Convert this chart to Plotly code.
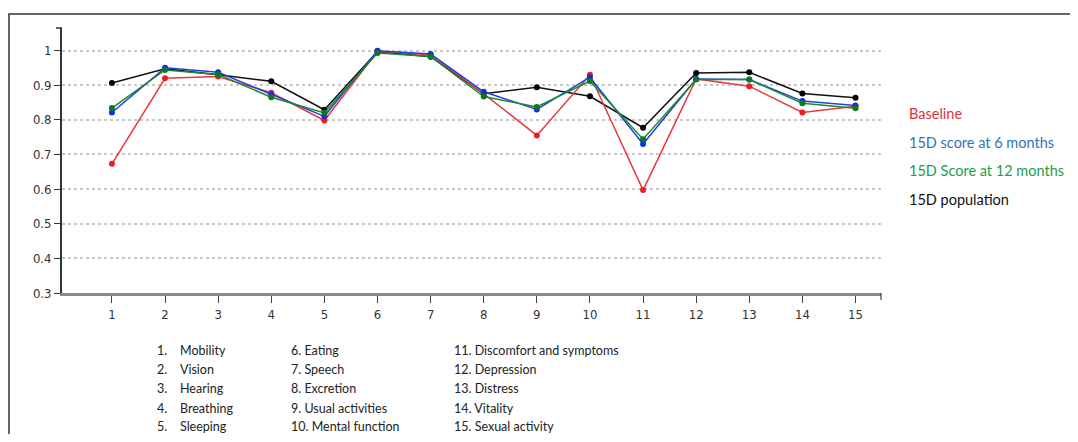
import plotly.graph_objects as go

# ---- data ----
dimensions = list(range(1, 16))
dimension_names = ["Mobility", "Vision", "Hearing", "Breathing", "Sleeping",
                   "Eating", "Speech", "Excretion", "Usual activities", "Mental function",
                   "Discomfort and symptoms", "Depression", "Distress", "Vitality", "Sexual activity"]
baseline = [0.673, 0.920, 0.925, 0.878, 0.798, 0.998, 0.988, 0.875, 0.755, 0.930,
            0.597, 0.918, 0.897, 0.821, 0.839]
months6 = [0.821, 0.950, 0.937, 0.873, 0.810, 0.999, 0.990, 0.881, 0.830, 0.923,
           0.730, 0.918, 0.916, 0.854, 0.841]
months12 = [0.834, 0.944, 0.931, 0.865, 0.820, 0.993, 0.983, 0.867, 0.837, 0.912,
            0.744, 0.916, 0.916, 0.848, 0.833]
population = [0.906, 0.947, 0.930, 0.911, 0.829, 0.997, 0.982, 0.875, 0.894, 0.868,
              0.777, 0.935, 0.937, 0.876, 0.864]
series_names = ["Baseline", "15D score at 6 months", "15D Score at 12 months", "15D population"]
y_ticks = [0.3, 0.4, 0.5, 0.6, 0.7, 0.8, 0.9, 1.0]
y_tick_labels = ["0.3", "0.4", "0.5", "0.6", "0.7", "0.8", "0.9", "1"]

# ---- style ----
OFF = 8  # default page body margin
W, H = 1078 - 2 * OFF, 442 - 2 * OFF
# plot area in screen pixels
SL, SR, ST, SB = 62, 881, 28, 293
L, R, T, B = SL - OFF, SR - OFF, ST - OFF, SB - OFF
line_colors = ["#e8393d", "#2040e0", "#1a8a2e", "#111111"]
marker_colors = ["#ee1c25", "#1030e8", "#0a7a1f", "#000000"]
text_colors = ["#d9343c", "#2e75b6", "#1ca04c", "#111111"]
draw_order = [3, 0, 1, 2]
all_series = [baseline, months6, months12, population]

fig = go.Figure()
for i in draw_order:
    fig.add_trace(go.Scatter(
        x=dimensions, y=all_series[i], mode="lines+markers", name=series_names[i],
        line=dict(color=line_colors[i], width=1.5),
        marker=dict(color=marker_colors[i], size=6),
        showlegend=False))

def px_x(p):
    return (p - SL) / (SR - SL)

def px_y(p):
    return (SB - p) / (SB - ST)

tick_font = dict(family="Liberation Sans Narrow, Arial Narrow, DejaVu Sans Condensed, Liberation Sans", size=13, color="#333")

fig.update_layout(
    width=W, height=H,
    margin=dict(l=L, r=W - R, t=T, b=H - B, pad=0),
    paper_bgcolor="white", plot_bgcolor="white",
    xaxis=dict(range=[0.06, 15.48], tickvals=dimensions, ticktext=[str(d) for d in dimensions],
               showgrid=False, zeroline=False, showline=True, linecolor="#8a8a8a", linewidth=3,
               ticks="outside", ticklen=7, tickcolor="#444", tickwidth=1.2,
               tickfont=tick_font),
    yaxis=dict(range=[0.3, 1.065], tickvals=y_ticks, ticktext=y_tick_labels,
               showgrid=True, gridcolor="#c8c8c8", gridwidth=1.5, griddash="dot",
               zeroline=False, showline=True, linecolor="#333", linewidth=1.8,
               ticks="outside", ticklen=6, tickcolor="#333", tickwidth=1.2,
               tickfont=tick_font),
    font=dict(family="Lato, Open Sans, sans-serif"),
)

shapes = []
# outer frame
shapes.append(dict(type="rect", xref="paper", yref="paper",
                   x0=px_x(9), x1=px_x(1100), y0=px_y(470), y1=px_y(14),
                   line=dict(color="#333", width=1.5), layer="below"))
# axis end caps
shapes.append(dict(type="line", xref="paper", yref="paper",
                   x0=px_x(56), x1=px_x(62), y0=1, y1=1, line=dict(color="#333", width=1.5)))
shapes.append(dict(type="line", xref="paper", yref="paper",
                   x0=1, x1=1, y0=0, y1=px_y(300), line=dict(color="#444", width=1.2)))
fig.update_layout(shapes=shapes)

annotations = []
legend_y = [113, 142, 170, 199]
for i, name in enumerate(series_names):
    annotations.append(dict(xref="paper", yref="paper", x=px_x(907), y=px_y(legend_y[i]),
                            text=name, showarrow=False, xanchor="left", yanchor="middle",
                            font=dict(family="Lato, Open Sans, sans-serif", size=14.5, color=text_colors[i])))

row_y = [350, 369, 388, 408, 427]
list_font = dict(family="Lato, Open Sans, sans-serif", size=12.5, color="#222")
for k, (d, nm) in enumerate(zip(dimensions, dimension_names)):
    col, row = divmod(k, 5)
    y = px_y(row_y[row])
    if col == 0:
        annotations.append(dict(xref="paper", yref="paper", x=px_x(155), y=y, text=f"{d}.",
                                showarrow=False, xanchor="left", yanchor="middle", font=list_font))
        annotations.append(dict(xref="paper", yref="paper", x=px_x(178), y=y, text=nm,
                                showarrow=False, xanchor="left", yanchor="middle", font=list_font))
    else:
        xs = [None, 289, 452][col]
        annotations.append(dict(xref="paper", yref="paper", x=px_x(xs), y=y, text=f"{d}. {nm}",
                                showarrow=False, xanchor="left", yanchor="middle", font=list_font))
fig.update_layout(annotations=annotations)

fig.write_html("out.html")
